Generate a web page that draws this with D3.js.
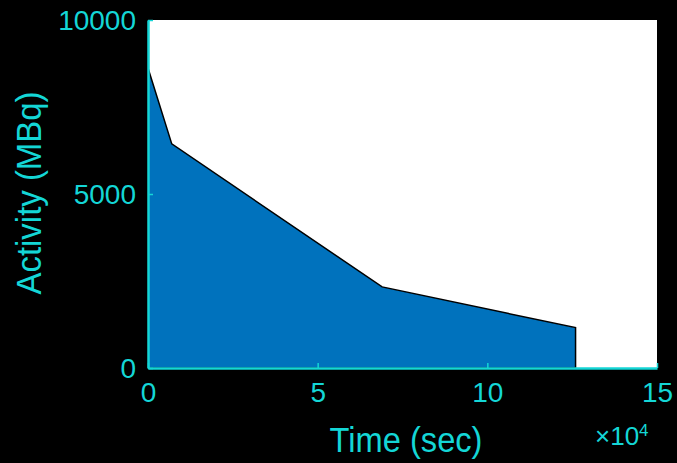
<!DOCTYPE html>
<html><head><meta charset="utf-8">
<script src="https://cdn.jsdelivr.net/npm/d3@7"></script>
<style>html,body{margin:0;padding:0;background:#000;}svg{display:block;}</style>
</head><body>
<script>
const times = [0, 7000, 69000, 126000];
const activity = [8620, 6440, 2330, 1160];
const xTicks = [0, 50000, 100000, 150000];
const xTickLabels = ["0", "5", "10", "15"];
const yTicks = [0, 5000, 10000];
const yTickLabels = ["0", "5000", "10000"];

const W = 677, H = 463;
const m = {left: 148, top: 20, right: 20, bottom: 95};
const cyan = "#14d6d6";
const svg = d3.select("body").append("svg").attr("width", W).attr("height", H);
svg.append("rect").attr("width", W).attr("height", H).attr("fill", "#000");

const x = d3.scaleLinear().domain([0, 150000]).range([m.left, W - m.right]);
const y = d3.scaleLinear().domain([0, 10000]).range([H - m.bottom, m.top]);

svg.append("rect").attr("x", x(0)).attr("y", y(10000))
  .attr("width", x(150000) - x(0)).attr("height", y(0) - y(10000)).attr("fill", "#fff");

const data = times.map((t, i) => ({t, a: activity[i]}));
svg.append("path").datum(data)
  .attr("d", d3.area().x(d => x(d.t)).y0(y(0)).y1(d => y(d.a)))
  .attr("fill", "#0072BD").attr("stroke", "#000").attr("stroke-width", 1.5);

const xAxis = d3.axisBottom(x).tickValues(xTicks).tickFormat((d, i) => xTickLabels[i]).tickSizeInner(-5).tickSizeOuter(0).tickPadding(14);
const gx = svg.append("g").attr("transform", `translate(0,${y(0)})`).call(xAxis);
const yAxis = d3.axisLeft(y).tickValues(yTicks).tickFormat((d, i) => yTickLabels[i]).tickSizeInner(-5).tickSizeOuter(0).tickPadding(12);
const gy = svg.append("g").attr("transform", `translate(${x(0)},0)`).call(yAxis);
[gx, gy].forEach(g => {
  g.select(".domain").attr("stroke", cyan).attr("stroke-width", 2.5);
  g.selectAll(".tick line").attr("stroke", cyan).attr("stroke-width", 1.5);
  g.selectAll(".tick text").attr("fill", cyan).attr("font-family", "Liberation Sans, Arial, sans-serif").attr("font-size", 28);
});
gy.selectAll(".tick text").attr("dy", "0.35em");

svg.append("text").attr("x", 406).attr("y", 452).attr("text-anchor", "middle")
  .attr("fill", cyan).attr("font-family", "Liberation Sans, Arial, sans-serif").attr("font-size", 35)
  .attr("textLength", 153).attr("lengthAdjust", "spacingAndGlyphs").text("Time (sec)");

svg.append("text").attr("transform", "translate(41,193) rotate(-90)").attr("text-anchor", "middle")
  .attr("fill", cyan).attr("font-family", "Liberation Sans, Arial, sans-serif").attr("font-size", 35)
  .attr("textLength", 203).attr("lengthAdjust", "spacingAndGlyphs").text("Activity (MBq)");

const ex = svg.append("text").attr("x", 595).attr("y", 445)
  .attr("fill", cyan).attr("font-family", "Liberation Sans, Arial, sans-serif").attr("font-size", 26);
ex.append("tspan").text("×10");
ex.append("tspan").attr("dy", -9).attr("font-size", 17).text("4");
</script>
</body></html>
